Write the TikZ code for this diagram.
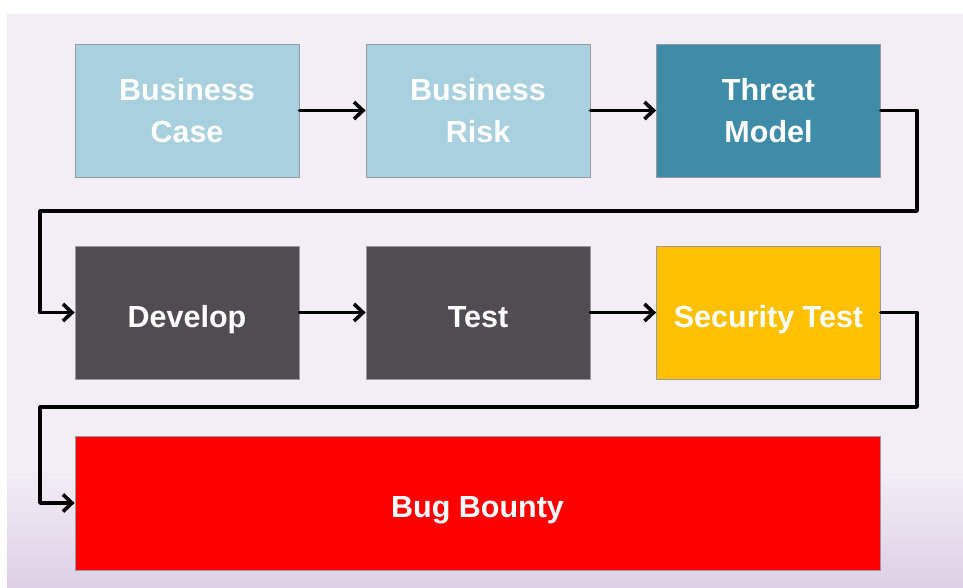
\documentclass[tikz,border=0pt]{standalone}
\usepackage{fontspec}
\setmainfont{Liberation Sans}
\usetikzlibrary{arrows.meta}
\definecolor{bgl}{HTML}{F3EEF6}
\definecolor{bgd}{HTML}{DDD0E6}
\definecolor{lblue}{HTML}{A8D0DF}
\definecolor{tblue}{HTML}{3F8CA8}
\definecolor{dgray}{HTML}{504D52}
\definecolor{ylw}{HTML}{FFC000}
\definecolor{rd}{HTML}{FF0000}
\definecolor{bord}{HTML}{9A98A0}
\tikzset{
  stagebox/.style={draw=bord, line width=0.8pt, minimum width=224pt, minimum height=133pt, inner sep=0pt, align=center, text=white, font=\fontsize{30.5}{42}\selectfont\bfseries},
  oneline/.style={text height=29pt, text depth=0pt},
  flow/.style={line width=3.6pt, -{Straight Barb[length=9pt,width=17pt,line width=3.6pt]}, line join=round, line cap=round}
}
\begin{document}
\begin{tikzpicture}[x=1pt,y=-1pt]
\useasboundingbox (0,0) rectangle (963,587);
\fill[white] (0,0) rectangle (963,587);
\fill[bgl] (7,14) rectangle (963,470);
\shade[top color=bgl, bottom color=bgd] (7,469) rectangle (963,587);
\node[stagebox, fill=lblue] (bc) at (187,110.5) {Business\\Case};
\node[stagebox, fill=lblue] (br) at (478,110.5) {Business\\Risk};
\node[stagebox, fill=tblue] (tm) at (768.5,110.5) {Threat\\Model};
\node[stagebox, oneline, fill=dgray] (dv) at (187,312.5) {Develop};
\node[stagebox, oneline, fill=dgray] (ts) at (478,312.5) {Test};
\node[stagebox, oneline, fill=ylw] (st) at (768.5,312.5) {Security Test};
\node[stagebox, oneline, fill=rd, minimum width=805pt, minimum height=134pt] (bb) at (477.5,503) {Bug Bounty};
\coordinate (c1) at (917,211);
\coordinate (c2) at (40,211);
\coordinate (c3) at (917,407);
\coordinate (c4) at (40,407);
\draw[flow] (bc) -- (br);
\draw[flow] (br) -- (tm);
\draw[flow] (tm.east) -| (c1) -- (c2) |- (dv.west);
\draw[flow] (dv) -- (ts);
\draw[flow] (ts) -- (st);
\draw[flow] (st.east) -| (c3) -- (c4) |- (bb.west);
\end{tikzpicture}
\end{document}
